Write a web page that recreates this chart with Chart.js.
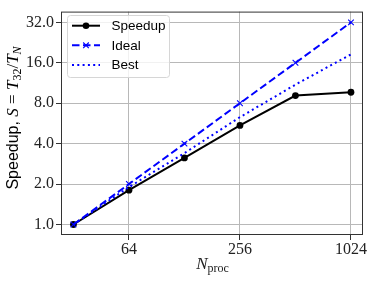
<!DOCTYPE html>
<html>
<head>
<meta charset="utf-8">
<script src="https://cdn.jsdelivr.net/npm/chart.js@4"></script>
<style>
  html, body { margin: 0; padding: 0; background: #fff; }
  canvas { display: block; }
</style>
</head>
<body>
<canvas id="chart" width="374" height="283"></canvas>
<script>
const procs = [32, 64, 128, 256, 512, 1024];
const speedup = [1.0, 1.80, 3.13, 5.47, 9.12, 9.66];
const ideal = [1, 2, 4, 8, 16, 32];
const best = [1.0, 1.9, 3.4, 6.3, 11.0, 18.5];
const xTicks = [64, 256, 1024];
const yTicks = [1, 2, 4, 8, 16, 32];
const seriesNames = ['Speedup', 'Ideal', 'Best'];

const serif = '"Liberation Serif", "DejaVu Serif", serif';
const sans = '"Liberation Sans", Arial, sans-serif';
const blue = '#0000ff';

const toPoints = ys => procs.map((p, i) => ({ x: p, y: ys[i] }));

// draw a run of text pieces with different fonts, centred on cx
function drawRich(ctx, parts, cx, y) {
  let w = 0;
  parts.forEach(p => { ctx.font = p.f; w += ctx.measureText(p.t).width; });
  let x = cx - w / 2;
  parts.forEach(p => {
    ctx.font = p.f;
    ctx.fillText(p.t, x, y + (p.dy || 0));
    x += ctx.measureText(p.t).width;
  });
}

const framePlugin = {
  id: 'frame',
  afterDatasetsDraw(chart) {
    const { ctx, chartArea: a } = chart;
    ctx.save();
    ctx.strokeStyle = '#333';
    ctx.lineWidth = 1;
    ctx.strokeRect(a.left + 0.5, a.top + 0.5, a.right - a.left - 1, a.bottom - a.top - 1);
    ctx.restore();
  }
};

const titlesPlugin = {
  id: 'titles',
  afterDraw(chart) {
    const ctx = chart.ctx;
    ctx.save();
    ctx.fillStyle = '#222';
    ctx.textBaseline = 'alphabetic';
    drawRich(ctx, [
      { t: 'N', f: `italic 17px ${serif}` },
      { t: 'proc', f: `12px ${serif}`, dy: 3 }
    ], 212.5, 269);

    ctx.translate(18, 118);
    ctx.rotate(-Math.PI / 2);
    ctx.fillStyle = '#000';
    drawRich(ctx, [
      { t: 'Speedup, ', f: `16px ${sans}` },
      { t: 'S', f: `italic 17px ${serif}` },
      { t: ' = ', f: `17px ${serif}` },
      { t: 'T', f: `italic 17px ${serif}` },
      { t: '32', f: `12px ${serif}`, dy: 3 },
      { t: '/', f: `17px ${serif}` },
      { t: 'T', f: `italic 17px ${serif}` },
      { t: 'N', f: `italic 12px ${serif}`, dy: 3 }
    ], 0, 0);
    ctx.restore();
  }
};

const legendPlugin = {
  id: 'boxLegend',
  afterDraw(chart) {
    const ctx = chart.ctx;
    const x0 = 67.5, y0 = 15.5, w = 102, h = 62;
    ctx.save();
    ctx.beginPath();
    ctx.roundRect(x0, y0, w, h, 3);
    ctx.fillStyle = 'rgba(255,255,255,0.8)';
    ctx.fill();
    ctx.strokeStyle = '#d6d6d6';
    ctx.lineWidth = 1;
    ctx.stroke();

    const rows = [25.7, 45.3, 65];
    chart.data.datasets.forEach((ds, i) => {
      const y = rows[i];
      ctx.beginPath();
      ctx.setLineDash(ds.borderDash || []);
      ctx.strokeStyle = ds.borderColor;
      ctx.lineWidth = ds.borderWidth;
      ctx.moveTo(72, y);
      ctx.lineTo(100, y);
      ctx.stroke();
      ctx.setLineDash([]);
      if (ds.pointStyle === 'circle') {
        ctx.beginPath();
        ctx.arc(86, y, 3.3, 0, Math.PI * 2);
        ctx.fillStyle = ds.pointBackgroundColor;
        ctx.fill();
      } else if (ds.pointStyle === 'crossRot') {
        ctx.beginPath();
        ctx.lineWidth = 1.1;
        ctx.moveTo(83.2, y - 2.8); ctx.lineTo(88.8, y + 2.8);
        ctx.moveTo(83.2, y + 2.8); ctx.lineTo(88.8, y - 2.8);
        ctx.stroke();
      }
      ctx.fillStyle = '#000';
      ctx.font = `13.5px ${sans}`;
      ctx.textBaseline = 'middle';
      ctx.fillText(ds.label, 111.5, y + 0.5);
    });
    ctx.restore();
  }
};

new Chart(document.getElementById('chart'), {
  type: 'line',
  data: {
    datasets: [
      {
        label: seriesNames[0],
        data: toPoints(speedup),
        borderColor: '#000',
        borderWidth: 2,
        pointStyle: 'circle',
        pointRadius: 3.4,
        pointBorderWidth: 0,
        pointBackgroundColor: '#000',
        pointBorderColor: '#000',
        order: 3
      },
      {
        label: seriesNames[1],
        data: toPoints(ideal),
        borderColor: blue,
        borderWidth: 2,
        borderDash: [7.5, 3.5],
        pointStyle: 'crossRot',
        pointRadius: 4,
        pointBorderWidth: 1.1,
        pointBorderColor: blue,
        pointBackgroundColor: blue,
        order: 2
      },
      {
        label: seriesNames[2],
        data: toPoints(best),
        borderColor: blue,
        borderWidth: 2,
        borderDash: [2, 3.3],
        pointRadius: 0,
        order: 1
      }
    ]
  },
  options: {
    responsive: false,
    animation: false,
    devicePixelRatio: 1,
    layout: { padding: { top: 8, right: 11, left: 0, bottom: 0 } },
    plugins: { legend: { display: false }, tooltip: { enabled: false } },
    scales: {
      x: {
        type: 'logarithmic',
        min: 27.4,
        max: 1190,
        border: { display: false },
        grid: { color: '#b8b8b8', lineWidth: 1, tickLength: 5, tickColor: '#333' },
        ticks: {
          autoSkip: false,
          maxRotation: 0,
          padding: 0,
          color: '#222',
          font: { family: serif, size: 16 },
          callback: v => String(v)
        },
        afterBuildTicks: s => { s.ticks = xTicks.map(v => ({ value: v })); },
        afterFit: s => { s.height = 48; }
      },
      y: {
        type: 'logarithmic',
        min: 0.835,
        max: 38.5,
        border: { display: false },
        grid: { color: '#b8b8b8', lineWidth: 1, tickLength: 5, tickColor: '#333' },
        ticks: {
          autoSkip: false,
          padding: 2,
          color: '#222',
          font: { family: serif, size: 16 },
          callback: v => Number(v).toFixed(1)
        },
        afterBuildTicks: s => { s.ticks = yTicks.map(v => ({ value: v })); },
        afterFit: s => { s.width = 61; }
      }
    }
  },
  plugins: [framePlugin, titlesPlugin, legendPlugin]
});
</script>
</body>
</html>
